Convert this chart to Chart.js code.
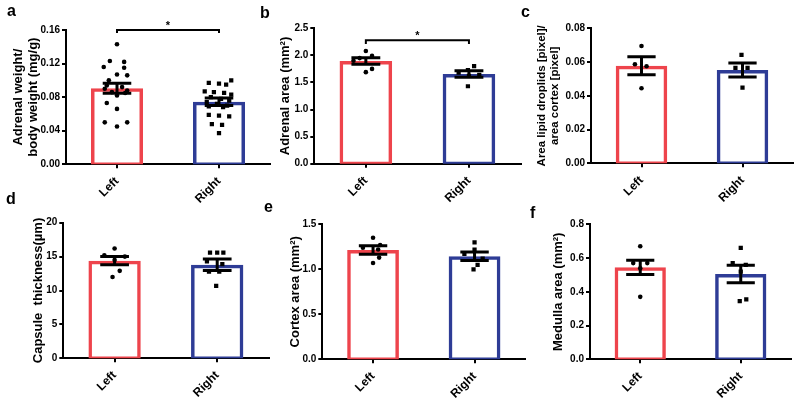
<!DOCTYPE html>
<html><head><meta charset="utf-8">
<script src="https://cdn.jsdelivr.net/npm/chart.js@4.4.1/dist/chart.umd.min.js"></script>
<style>
html,body{margin:0;padding:0;background:#fff;}
#wrap{position:relative;width:799px;height:404px;overflow:hidden;background:#fff;}
canvas{position:absolute;}
.lbl{position:absolute;font:bold 16px "Liberation Sans",Arial,sans-serif;line-height:16px;color:#000;}
</style></head><body>
<div id="wrap">
<canvas id="ca"></canvas><canvas id="cb"></canvas><canvas id="cc"></canvas>
<canvas id="cd"></canvas><canvas id="ce"></canvas><canvas id="cf"></canvas>
<div class="lbl" style="left:7px;top:3px">a</div>
<div class="lbl" style="left:260px;top:4.5px">b</div>
<div class="lbl" style="left:521px;top:3.5px">c</div>
<div class="lbl" style="left:6px;top:191px">d</div>
<div class="lbl" style="left:264px;top:198.5px">e</div>
<div class="lbl" style="left:530px;top:204.5px">f</div>
</div>
<script>
// ---------- data ----------
const categories = ['Left', 'Right'];

// a: Adrenal weight / body weight
const aLeftValues  = [0.143,0.123,0.122,0.116,0.115,0.107,0.106,0.100,0.094,0.092,0.090,0.088,0.086,0.085,0.082,0.073,0.066,0.050,0.050,0.045];
const aLeftJitter  = [0,-0.07,0.07,-0.13,0.07,0,0.1,-0.08,-0.1,0.05,-0.12,0.1,-0.05,0.08,0,-0.1,0,-0.12,0.1,0];
const aRightValues = [0.100,0.097,0.096,0.095,0.087,0.086,0.085,0.083,0.080,0.078,0.076,0.074,0.072,0.070,0.069,0.068,0.059,0.058,0.057,0.048,0.047,0.037];
const aRightJitter = [0.12,-0.1,0,0.07,-0.14,-0.05,0.05,0.12,-0.08,0.02,0.1,-0.12,-0.02,0.08,-0.1,0.04,-0.1,0,0.1,-0.07,0.03,0];
const aMeans = [0.0905, 0.0745];
const aSem   = [0.006, 0.0045];
const aTicks = [0, 0.04, 0.08, 0.12, 0.16];
const aTickLabels = ['0.00','0.04','0.08','0.12','0.16'];
const aBracket = [0.16, 0.1565];

// b: Adrenal area
const bLeftValues  = [2.08,1.99,1.95,1.90,1.75,1.69];
const bLeftJitter  = [0,0.06,-0.06,-0.12,0.06,0];
const bRightValues = [1.80,1.73,1.68,1.64,1.62,1.43];
const bRightJitter = [0.05,-0.01,-0.1,0.1,0,-0.01];
const bMeans = [1.895, 1.655];
const bSem   = [0.06, 0.06];
const bTicks = [0, 0.5, 1.0, 1.5, 2.0, 2.5];
const bTickLabels = ['0.0','0.5','1.0','1.5','2.0','2.5'];
const bBracket = [2.28, 2.21];

// c: Area lipid droplets / area cortex
const cLeftValues  = [0.0695,0.0587,0.0575,0.0445];
const cLeftJitter  = [0,-0.065,0.05,0];
const cRightValues = [0.0642,0.0565,0.0565,0.0448];
const cRightJitter = [-0.01,-0.07,0.05,0];
const cMeans = [0.0578, 0.0553];
const cSem   = [0.0053, 0.0042];
const cTicks = [0, 0.02, 0.04, 0.06, 0.08];
const cTickLabels = ['0.00','0.02','0.04','0.06','0.08'];

// d: Capsule thickness
const dLeftValues  = [16.2,15.2,15.0,14.5,12.9,12.0];
const dLeftJitter  = [0,-0.1,0.1,0,0.05,-0.02];
const dRightValues = [15.6,15.6,15.6,14.3,13.9,12.8,12.8,10.7];
const dRightJitter = [-0.07,0,0.06,-0.1,0.05,-0.08,0.02,-0.01];
const dMeans = [14.4, 13.8];
const dSem   = [0.6, 0.85];
const dTicks = [0, 5, 10, 15, 20];
const dTickLabels = ['0','5','10','15','20'];

// e: Cortex area
const eLeftValues  = [1.35,1.27,1.24,1.22,1.13,1.07];
const eLeftJitter  = [0,0.07,-0.1,0.05,0.06,0];
const eRightValues = [1.30,1.22,1.17,1.12,1.05,1.00];
const eRightJitter = [0,0,-0.1,0.08,0.03,-0.01];
const eMeans = [1.215, 1.145];
const eSem   = [0.048, 0.047];
const eTicks = [0, 0.5, 1.0, 1.5];
const eTickLabels = ['0.0','0.5','1.0','1.5'];

// f: Medulla area
const fLeftValues  = [0.67,0.57,0.57,0.54,0.37];
const fLeftJitter  = [0,-0.07,0.07,0,0];
const fRightValues = [0.66,0.57,0.56,0.52,0.345,0.355];
const fRightJitter = [0,-0.08,0.05,0,-0.01,0.055];
const fMeans = [0.545, 0.505];
const fSem   = [0.042, 0.052];
const fTicks = [0, 0.2, 0.4, 0.6, 0.8];
const fTickLabels = ['0.0','0.2','0.4','0.6','0.8'];

// ---------- styling / layout ----------
const RED = 'rgb(238,68,76)';
const BLUE = 'rgb(46,60,150)';
const FONT = '"Liberation Sans", Arial, sans-serif';
const CAP = 0.14;

const sigPlugin = {
  id: 'sig',
  afterDatasetsDraw(chart, args, opts) {
    if (opts.level === undefined || opts.level === null) return;
    const ctx = chart.ctx;
    const x = chart.scales.x.getPixelForValue(0.5);
    const y = chart.scales.y.getPixelForValue(opts.level);
    ctx.save();
    ctx.fillStyle = '#000';
    ctx.font = 'bold 11px ' + FONT;
    ctx.textAlign = 'center';
    ctx.textBaseline = 'alphabetic';
    ctx.fillText('*', x, y - 1);
    ctx.restore();
  }
};

function makePanel(p) {
  const cv = document.getElementById(p.id);
  cv.style.left = p.left + 'px'; cv.style.top = p.top + 'px';
  cv.style.width = p.w + 'px'; cv.style.height = p.h + 'px';
  cv.width = p.w; cv.height = p.h;

  const yMax = p.ticks[p.ticks.length - 1];
  const bars = p.means.map((m, i) => ({x: i, y: m}));
  const dotsL = p.leftValues.map((v, i) => ({x: 0 + p.leftJitter[i], y: v}));
  const dotsR = p.rightValues.map((v, i) => ({x: 1 + p.rightJitter[i], y: v}));
  const err = [];
  p.means.forEach((m, i) => {
    const lo = m - p.sem[i], hi = m + p.sem[i];
    err.push({x: i - CAP, y: hi}, {x: i + CAP, y: hi}, {x: i, y: null},
             {x: i, y: hi}, {x: i, y: lo}, {x: i, y: null},
             {x: i - CAP, y: lo}, {x: i + CAP, y: lo}, {x: i + 0.01, y: null});
  });
  const datasets = [
    {type: 'bar', data: bars, order: 4, grouped: false, base: -yMax * 0.012,
     backgroundColor: 'rgba(255,255,255,0)', borderColor: [RED, BLUE], borderWidth: 3.5,
     borderSkipped: false, barPercentage: 0.51, categoryPercentage: 1},
    {type: 'scatter', data: dotsL, order: 3,
     pointStyle: 'circle', pointRadius: 2.3, backgroundColor: '#000', borderWidth: 0},
    {type: 'scatter', data: dotsR, order: 2,
     pointStyle: 'rect', pointRadius: 3, backgroundColor: '#000', borderWidth: 0},
    {type: 'line', data: err, order: 1, spanGaps: false,
     borderColor: '#000', borderWidth: 3, pointRadius: 0, borderCapStyle: 'butt', fill: false}
  ];
  if (p.bracket) {
    datasets.push({type: 'line', order: 0, clip: false,
      data: [{x: 0, y: p.bracket[1]}, {x: 0, y: p.bracket[0]}, {x: 1, y: p.bracket[0]}, {x: 1, y: p.bracket[1]}],
      borderColor: '#000', borderWidth: 2, pointRadius: 0, fill: false, borderJoinStyle: 'miter'});
  }
  new Chart(cv, {
    type: 'bar',
    data: {datasets},
    plugins: [sigPlugin],
    options: {
      responsive: false, animation: false, devicePixelRatio: 1,
      layout: {padding: {left: 0, top: p.padTop, right: p.padRight, bottom: 0}},
      plugins: {legend: {display: false}, tooltip: {enabled: false}, sig: {level: p.bracket ? p.bracket[0] : null}},
      events: [],
      scales: {
        x: {
          type: 'linear', min: -0.5, max: 1.5, offset: false,
          afterBuildTicks: s => { s.ticks = categories.map((c, i) => ({value: i})); },
          grid: {display: true, offset: false, drawOnChartArea: false, drawTicks: true, tickLength: 4, color: '#000', lineWidth: 2},
          border: {display: true, color: '#000', width: 2},
          ticks: {color: '#000', font: {family: FONT, size: 12, weight: 'bold'}, minRotation: 45, maxRotation: 45, padding: 6,
                  callback: (v) => categories[Math.round(v)]},
          afterFit: s => { s.height = p.xH; }
        },
        y: {
          type: 'linear', min: p.ticks[0], max: yMax,
          afterBuildTicks: s => { s.ticks = p.ticks.map(v => ({value: v})); },
          grid: {display: true, drawOnChartArea: false, drawTicks: true, tickLength: 4, color: '#000', lineWidth: 2},
          border: {display: true, color: '#000', width: 2},
          ticks: {color: '#000', font: {family: FONT, size: 10, weight: 'bold'}, padding: 2,
                  callback: (v, i) => p.tickLabels[i]},
          title: {display: true, text: p.title, color: '#000',
                  font: {family: FONT, size: p.titleSize, weight: 'bold', lineHeight: p.titleLH},
                  padding: {top: p.titlePad, bottom: 0}},
          afterFit: s => { s.width = p.yW; }
        }
      }
    }
  });
}

makePanel({id: 'ca', left: 0, top: 0, w: 275, h: 205, yW: 66, padTop: 30, padRight: 5, xH: 40.7,
  titlePad: 10.5, titleSize: 13, titleLH: 1.15, title: ['Adrenal weight/', 'body weight (mg/g)'],
  leftValues: aLeftValues, leftJitter: aLeftJitter, rightValues: aRightValues, rightJitter: aRightJitter,
  means: aMeans, sem: aSem, ticks: aTicks, tickLabels: aTickLabels, bracket: aBracket});
makePanel({id: 'cb', left: 265, top: 0, w: 265, h: 205, yW: 49.3, padTop: 28.3, padRight: 9.5, xH: 41.3,
  titlePad: 13.2, titleSize: 13, titleLH: 1.15, title: 'Adrenal area (mm²)',
  leftValues: bLeftValues, leftJitter: bLeftJitter, rightValues: bRightValues, rightJitter: bRightJitter,
  means: bMeans, sem: bSem, ticks: bTicks, tickLabels: bTickLabels, bracket: bBracket});
makePanel({id: 'cc', left: 530, top: 0, w: 269, h: 205, yW: 61, padTop: 28.3, padRight: 6, xH: 41.7,
  titlePad: 5.4, titleSize: 11.5, titleLH: 1.15, title: ['Area lipid droplids [pixel]/', 'area cortex [pixel]'],
  leftValues: cLeftValues, leftJitter: cLeftJitter, rightValues: cRightValues, rightJitter: cRightJitter,
  means: cMeans, sem: cSem, ticks: cTicks, tickLabels: cTickLabels});
makePanel({id: 'cd', left: 0, top: 195, w: 275, h: 209, yW: 63.3, padTop: 27.7, padRight: 6.5, xH: 45.7,
  titlePad: 30.8, titleSize: 13, titleLH: 1.15, title: 'Capsule  thickness(µm)',
  leftValues: dLeftValues, leftJitter: dLeftJitter, rightValues: dRightValues, rightJitter: dRightJitter,
  means: dMeans, sem: dSem, ticks: dTicks, tickLabels: dTickLabels});
makePanel({id: 'ce', left: 265, top: 195, w: 265, h: 209, yW: 57.3, padTop: 29.3, padRight: 4.7, xH: 44.7,
  titlePad: 22.5, titleSize: 13, titleLH: 1.15, title: 'Cortex area (mm²)',
  leftValues: eLeftValues, leftJitter: eLeftJitter, rightValues: eRightValues, rightJitter: eRightJitter,
  means: eMeans, sem: eSem, ticks: eTicks, tickLabels: eTickLabels});
makePanel({id: 'cf', left: 530, top: 195, w: 269, h: 209, yW: 60, padTop: 29.3, padRight: 8, xH: 44.7,
  titlePad: 20.8, titleSize: 13, titleLH: 1.15, title: 'Medulla area (mm²)',
  leftValues: fLeftValues, leftJitter: fLeftJitter, rightValues: fRightValues, rightJitter: fRightJitter,
  means: fMeans, sem: fSem, ticks: fTicks, tickLabels: fTickLabels});
</script>
</body></html>
